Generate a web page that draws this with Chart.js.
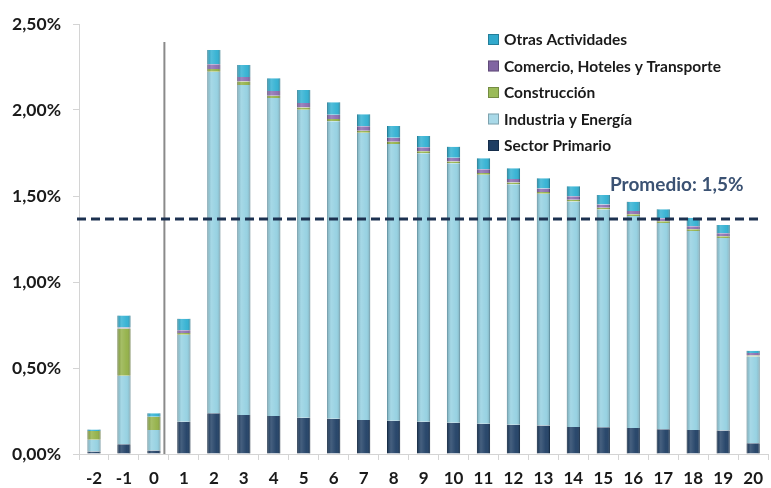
<!DOCTYPE html>
<html>
<head>
<meta charset="utf-8">
<script src="https://cdn.jsdelivr.net/npm/chart.js@4.4.0/dist/chart.umd.min.js"></script>
<style>
  html, body { margin: 0; padding: 0; background: #fff; }
  #wrap { width: 771px; height: 488px; position: relative; }
</style>
</head>
<body>
<div id="wrap"><canvas id="mainchart"></canvas></div>
<script>
// years relative to the event
var years = ['-2', '-1', '0', '1', '2', '3', '4', '5', '6', '7', '8', '9', '10',
             '11', '12', '13', '14', '15', '16', '17', '18', '19', '20'];

// contribution per sector, in %
var primario     = [0.015, 0.056, 0.020, 0.188, 0.237, 0.227, 0.221, 0.211, 0.205, 0.198, 0.194, 0.188,
                    0.182, 0.176, 0.170, 0.165, 0.157, 0.155, 0.151, 0.144, 0.140, 0.136, 0.062];
var industria    = [0.068, 0.399, 0.120, 0.506, 1.986, 1.918, 1.849, 1.791, 1.730, 1.670, 1.609, 1.560,
                    1.508, 1.447, 1.398, 1.348, 1.311, 1.266, 1.233, 1.199, 1.156, 1.120, 0.505];
var construccion = [0.050, 0.275, 0.077, 0.010, 0.016, 0.020, 0.013, 0.013, 0.013, 0.012, 0.012, 0.012,
                    0.011, 0.011, 0.011, 0.010, 0.010, 0.010, 0.010, 0.010, 0.010, 0.010, 0.005];
var comercio     = [0.000, 0.005, 0.000, 0.015, 0.027, 0.027, 0.027, 0.026, 0.025, 0.025, 0.024, 0.023,
                    0.022, 0.021, 0.020, 0.020, 0.020, 0.019, 0.019, 0.018, 0.018, 0.017, 0.015];
var otras        = [0.010, 0.070, 0.020, 0.068, 0.083, 0.070, 0.074, 0.075, 0.072, 0.070, 0.068, 0.066,
                    0.064, 0.064, 0.062, 0.060, 0.058, 0.056, 0.054, 0.052, 0.050, 0.048, 0.013];

var promedioLine = 1.366;          // where the dashed line sits
var promedioLabel = 'Promedio: 1,5%';
var yTicks = [0, 0.5, 1, 1.5, 2, 2.5];

var FONT = "Lato, 'Open Sans', sans-serif";

// dashed average line, vertical separator, label and legend
var extras = {
    id: 'extras',
    beforeDatasetsDraw: function (chart) {
        var c = chart.ctx, x = chart.scales.x, y = chart.scales.y, area = chart.chartArea;
        // vertical separator between year 0 and 1
        var vx = x.getPixelForValue(2.35);
        c.save();
        c.strokeStyle = '#8a8a8a';
        c.lineWidth = 2;
        c.beginPath();
        c.moveTo(vx, y.getPixelForValue(2.395));
        c.lineTo(vx, area.bottom);
        c.stroke();
        c.restore();
    },
    afterDatasetsDraw: function (chart) {
        var c = chart.ctx, x = chart.scales.x, y = chart.scales.y, area = chart.chartArea;
        // glossy highlight on the bars
        chart.data.datasets.forEach(function (ds, i) {
            chart.getDatasetMeta(i).data.forEach(function (bar) {
                var p = bar.getProps(['x', 'y', 'base', 'width'], true);
                var h = p.base - p.y;
                if (h < 1) return;
                var g = c.createLinearGradient(p.x - p.width / 2, 0, p.x + p.width / 2, 0);
                g.addColorStop(0, 'rgba(0,0,0,0.18)');
                g.addColorStop(0.3, 'rgba(255,255,255,0.18)');
                g.addColorStop(0.7, 'rgba(255,255,255,0.05)');
                g.addColorStop(1, 'rgba(0,0,0,0.2)');
                c.fillStyle = g;
                c.fillRect(p.x - p.width / 2, p.y, p.width, h);
            });
        });
        // average line
        var ly = y.getPixelForValue(promedioLine);
        c.save();
        c.strokeStyle = '#1c3150';
        c.lineWidth = 3;
        c.setLineDash([9, 5]);
        c.beginPath();
        c.moveTo(area.left - 2, ly);
        c.lineTo(x.getPixelForValue(22) + 5, ly);
        c.stroke();
        c.setLineDash([]);
        c.fillStyle = '#3b5273';
        c.font = 'bold 19px ' + FONT;
        c.textAlign = 'center';
        c.textBaseline = 'middle';
        c.fillText(promedioLabel, x.getPixelForValue(19.45), ly - 34);
        c.restore();
    },
    afterDraw: function (chart) {
        var c = chart.ctx;
        var ds = chart.data.datasets.slice().reverse();
        c.save();
        c.font = 'bold 15.5px ' + FONT;
        c.textBaseline = 'middle';
        c.textAlign = 'left';
        ds.forEach(function (d, i) {
            var ry = 39 + i * 26.5;
            c.fillStyle = d.legendColor;
            c.fillRect(488, ry - 5, 11, 11);
            c.strokeStyle = 'rgba(0,0,0,0.25)';
            c.lineWidth = 1;
            c.strokeRect(488.5, ry - 4.5, 10, 10);
            c.fillStyle = '#1a1a1a';
            c.fillText(d.label, 504, ry + 1);
        });
        c.restore();
    }
};

var chartElement = document.getElementById('mainchart');
var ctx = chartElement.getContext('2d');
var chart = new Chart(ctx, {
    type: 'bar',
    data: {
        labels: years,
        datasets: [{
                label: 'Sector Primario',
                data: primario,
                backgroundColor: '#1d3d63',
                borderColor: '#163150',
                legendColor: '#1d3d63'
            },
            {
                label: 'Industria y Energía',
                data: industria,
                backgroundColor: '#93d0e1',
                borderColor: '#79b4c6',
                legendColor: '#a9d9e8'
            },
            {
                label: 'Construcción',
                data: construccion,
                backgroundColor: '#92b045',
                borderColor: '#77913a',
                legendColor: '#9bbb59'
            },
            {
                label: 'Comercio, Hoteles y Transporte',
                data: comercio,
                backgroundColor: '#8a6cb0',
                borderColor: '#6b5290',
                legendColor: '#8064a2'
            },
            {
                label: 'Otras Actividades',
                data: otras,
                backgroundColor: '#2fb0d2',
                borderColor: '#2494b3',
                legendColor: '#31a9cc'
            }]
    },
    options: {
        responsive: true,
        maintainAspectRatio: false,
        animation: false,
        layout: { padding: { top: 24, right: 0, left: 0, bottom: 0 } },
        datasets: {
            bar: { categoryPercentage: 1, barPercentage: 0.44, borderWidth: { left: 1, right: 1 } }
        },
        plugins: {
            legend: { display: false },
            tooltip: { enabled: false }
        },
        scales: {
            x: {
                stacked: true,
                grid: { offset: true, drawOnChartArea: false, tickLength: 6, color: '#d4d4d4' },
                border: { color: '#d4d4d4' },
                ticks: {
                    color: '#1a1a1a',
                    padding: 8,
                    font: { family: FONT, weight: 'bold', size: 17 }
                },
                afterFit: function (s) { s.height = 34; }
            },
            y: {
                stacked: true,
                min: 0,
                max: 2.5,
                afterBuildTicks: function (s) { s.ticks = yTicks.map(function (v) { return { value: v }; }); },
                grid: { drawOnChartArea: false, tickLength: 6, color: '#d4d4d4' },
                border: { color: '#d4d4d4' },
                ticks: {
                    color: '#1a1a1a',
                    padding: 12,
                    font: { family: FONT, weight: 'bold', size: 17.5 },
                    callback: function (v) { return v.toFixed(2).replace('.', ',') + '%'; }
                },
                afterFit: function (s) { s.width = 79; }
            }
        }
    },
    plugins: [extras]
});
</script>
</body>
</html>
